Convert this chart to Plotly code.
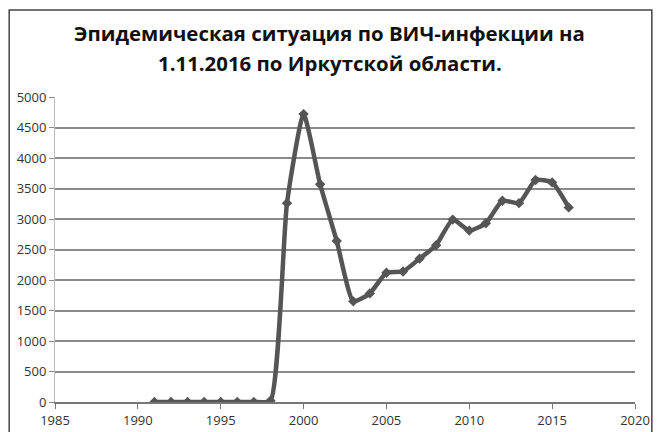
import plotly.graph_objects as go

years = [1991, 1992, 1993, 1994, 1995, 1996, 1997, 1998, 1999, 2000,
         2001, 2002, 2003, 2004, 2005, 2006, 2007, 2008, 2009, 2010,
         2011, 2012, 2013, 2014, 2015, 2016]
cases = [0, 0, 0, 0, 0, 0, 0, 20, 3260, 4720,
         3570, 2640, 1650, 1780, 2120, 2140, 2350, 2570, 2990, 2810,
         2930, 3300, 3260, 3640, 3600, 3190]

x_ticks = [1985, 1990, 1995, 2000, 2005, 2010, 2015, 2020]
y_ticks = [0, 500, 1000, 1500, 2000, 2500, 3000, 3500, 4000, 4500, 5000]

title_lines = ["Эпидемическая ситуация по ВИЧ-инфекции на",
               "1.11.2016 по Иркутской области."]

fig = go.Figure()
fig.add_trace(go.Scatter(
    x=years, y=cases, mode="lines+markers",
    line=dict(color="#555555", width=4.5, shape="spline", smoothing=0.5),
    marker=dict(symbol="diamond", size=8, color="#555555"),
    showlegend=False,
))

for txt, yp in zip(title_lines, [1.2098, 1.11]):
    fig.add_annotation(text="<b>" + txt + "</b>", xref="paper", yref="paper",
                       x=0.474, y=yp, xanchor="center", yanchor="middle",
                       showarrow=False,
                       font=dict(size=20.4, family="Open Sans, sans-serif", color="#111111"))

fig.update_layout(
    width=658, height=432,
    margin=dict(l=55, r=23, t=97, b=30),
    paper_bgcolor="white", plot_bgcolor="white",
    font=dict(family="Open Sans, sans-serif", color="#222222"),
    shapes=[dict(type="rect", xref="paper", yref="paper",
                 x0=-0.079, x1=1.029, y0=-0.2, y1=1.285,
                 line=dict(color="#444444", width=1.5))],
)
fig.update_xaxes(
    range=[1985, 2020], tickvals=x_ticks, ticktext=[str(v) for v in x_ticks],
    showgrid=False, zeroline=False, showline=True, linecolor="#777777", linewidth=2,
    ticks="outside", ticklen=5, tickcolor="#777777", automargin=False,
    tickfont=dict(size=13, color="#333333"),
)
fig.update_yaxes(
    range=[0, 5000], tickvals=y_ticks, ticktext=[str(v) for v in y_ticks],
    showgrid=True, gridcolor="#8a8a8a", gridwidth=1.5, zeroline=False,
    showline=True, linecolor="#bbbbbb", linewidth=1,
    ticks="outside", ticklen=5, tickcolor="#8a8a8a", automargin=False,
    tickfont=dict(size=13, color="#333333"),
)

fig.write_html("out.html", config={"displayModeBar": False})
with open("out.html", encoding="utf-8") as f:
    html = f.read()
html = html.replace("<body>", '<body style="margin:0;overflow:hidden">', 1)
with open("out.html", "w", encoding="utf-8") as f:
    f.write(html)
